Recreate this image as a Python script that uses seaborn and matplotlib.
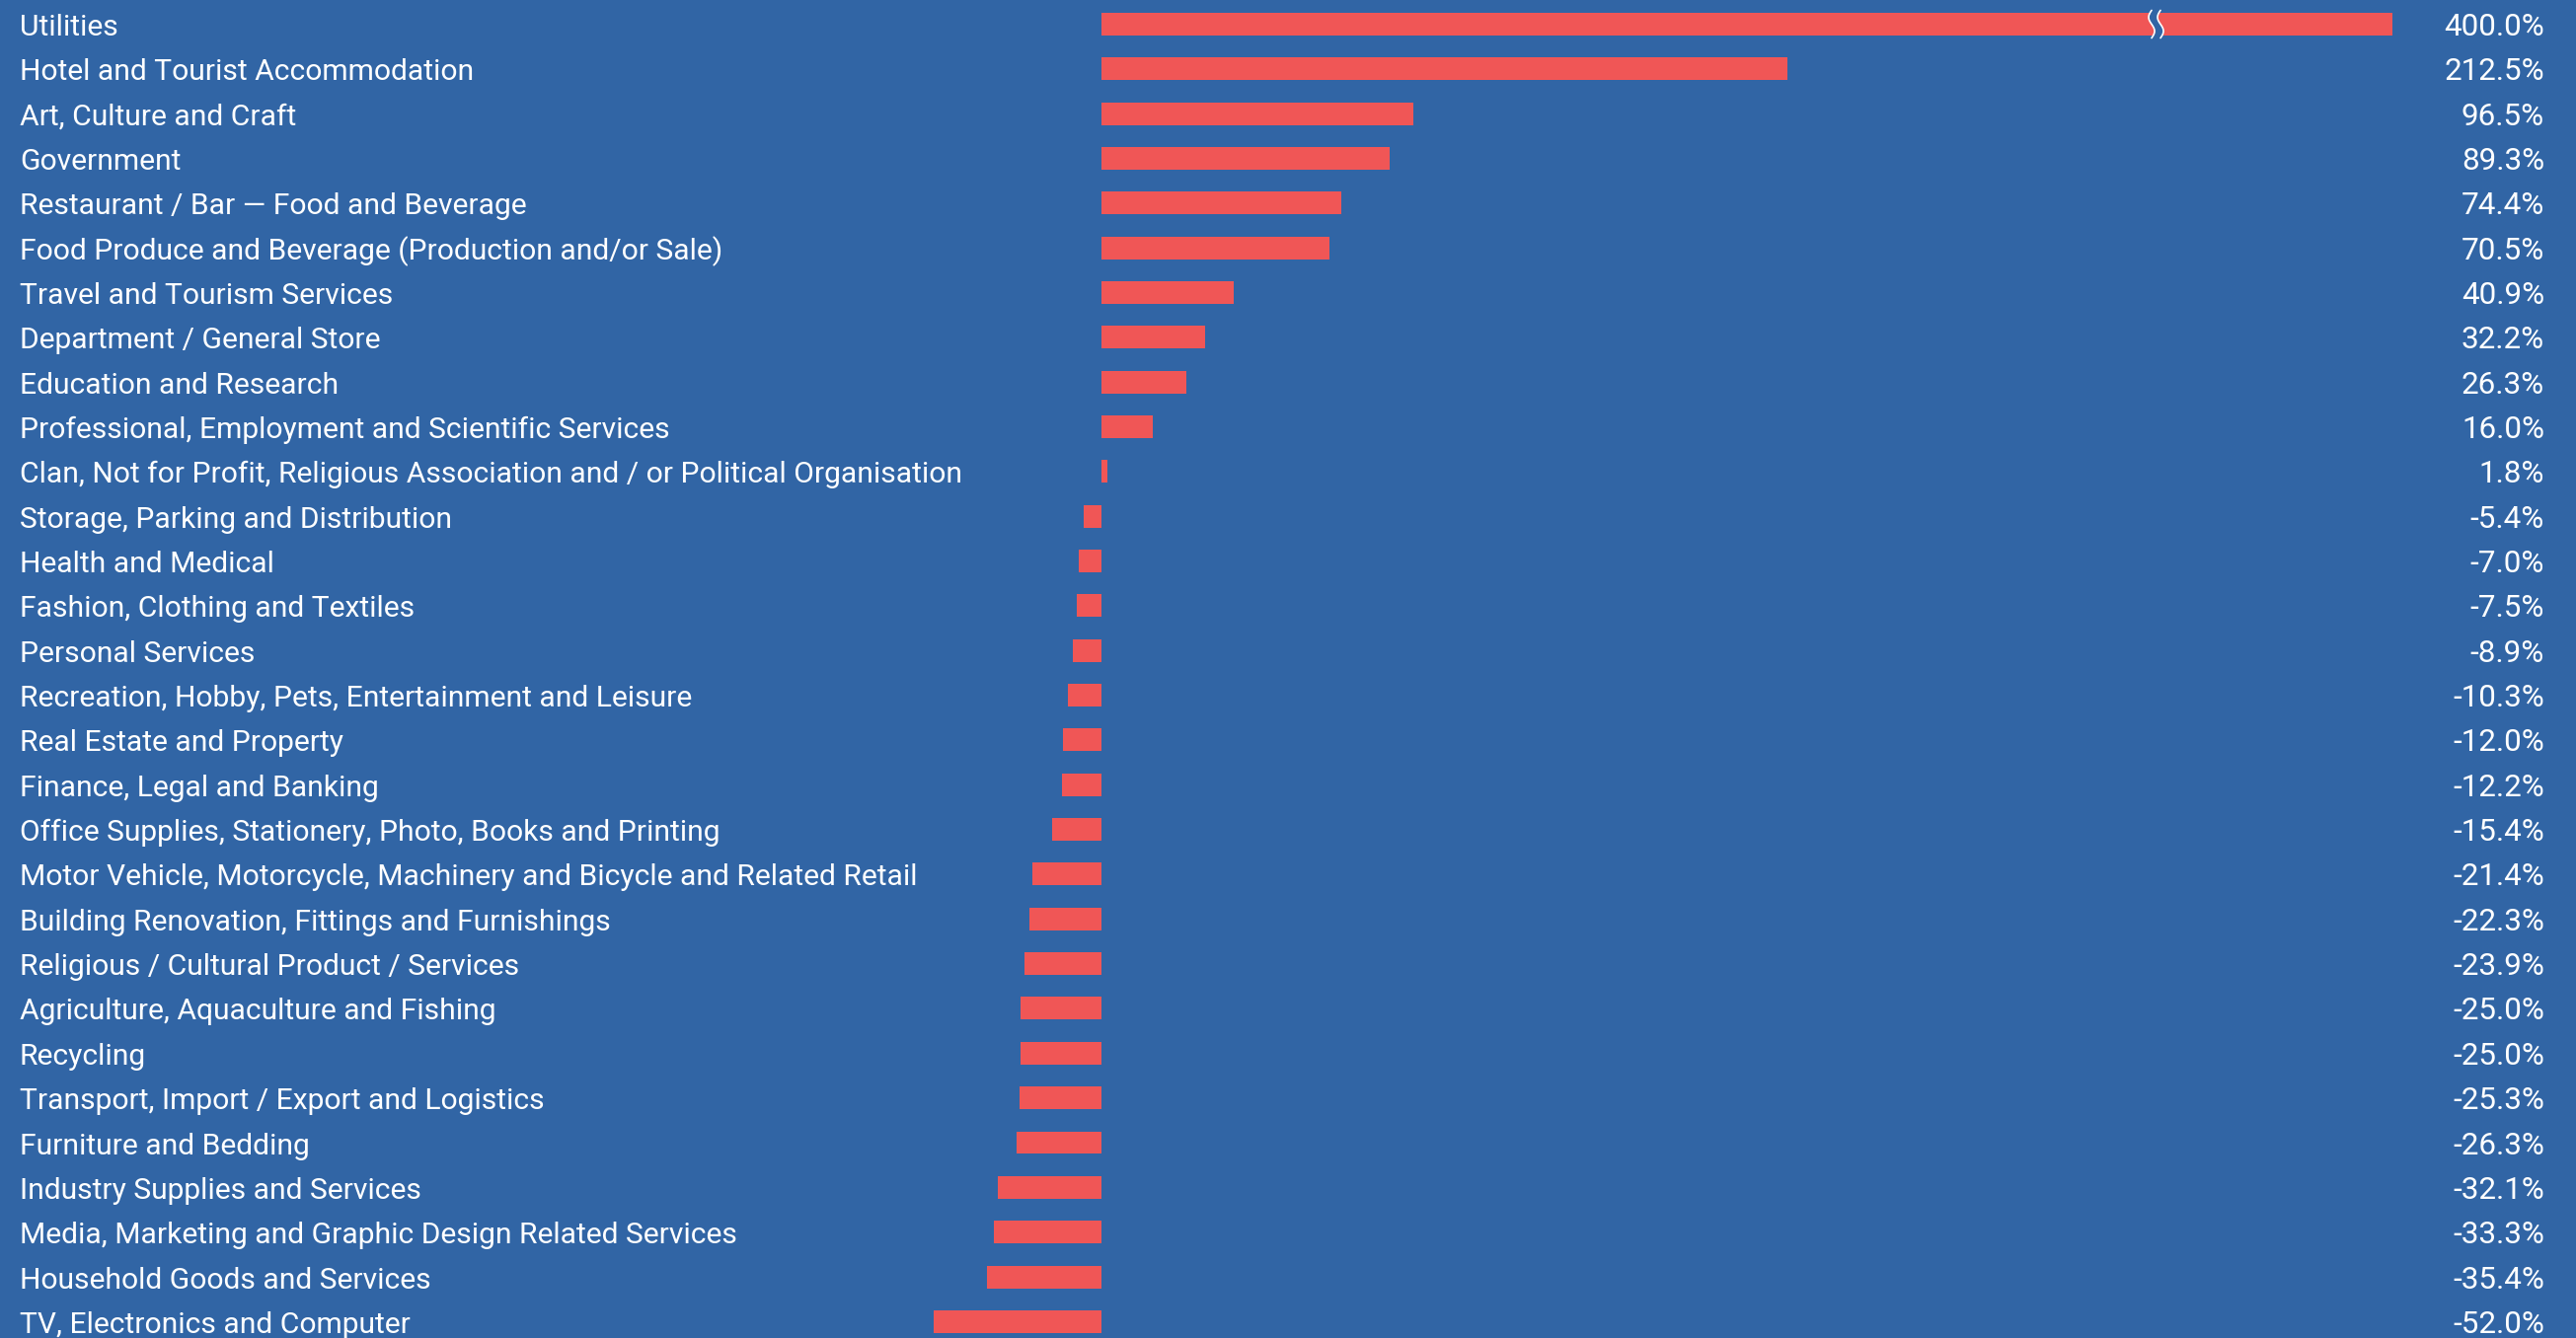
import numpy as np
import matplotlib
matplotlib.use("Agg")
import matplotlib.pyplot as plt
import matplotlib.transforms as mtransforms
import seaborn as sns

# Percentage change by business category
categories = [
    "Utilities",
    "Hotel and Tourist Accommodation",
    "Art, Culture and Craft",
    "Government",
    "Restaurant / Bar \u2014 Food and Beverage",
    "Food Produce and Beverage (Production and/or Sale)",
    "Travel and Tourism Services",
    "Department / General Store",
    "Education and Research",
    "Professional, Employment and Scientific Services",
    "Clan, Not for Profit, Religious Association and / or Political Organisation",
    "Storage, Parking and Distribution",
    "Health and Medical",
    "Fashion, Clothing and Textiles",
    "Personal Services",
    "Recreation, Hobby, Pets, Entertainment and Leisure",
    "Real Estate and Property",
    "Finance, Legal and Banking",
    "Office Supplies, Stationery, Photo, Books and Printing",
    "Motor Vehicle, Motorcycle, Machinery and Bicycle and Related Retail",
    "Building Renovation, Fittings and Furnishings",
    "Religious / Cultural Product / Services",
    "Agriculture, Aquaculture and Fishing",
    "Recycling",
    "Transport, Import / Export and Logistics",
    "Furniture and Bedding",
    "Industry Supplies and Services",
    "Media, Marketing and Graphic Design Related Services",
    "Household Goods and Services",
    "TV, Electronics and Computer",
]
change_pct = [
    400.0, 212.5, 96.5, 89.3, 74.4, 70.5, 40.9, 32.2, 26.3, 16.0,
    1.8, -5.4, -7.0, -7.5, -8.9, -10.3, -12.0, -12.2, -15.4, -21.4,
    -22.3, -23.9, -25.0, -25.0, -25.3, -26.3, -32.1, -33.3, -35.4, -52.0,
]

BG = "#3165a5"
BAR = "#f05656"
TXT = "#ffffff"

sns.set_theme(style="white")
plt.rcParams["font.family"] = ["Roboto", "DejaVu Sans"]

W, H = 2610, 1356
fig = plt.figure(figsize=(W / 100, H / 100), dpi=100, facecolor=BG)
ax = fig.add_axes([0, 0, 1, 1])

sns.barplot(x=change_pct, y=categories, orient="h", color=BAR,
            saturation=1, width=0.507, linewidth=0, edgecolor=BAR, ax=ax)

# horizontal scale: zero at 1116 px, 3.27 px per percentage point
px_per = 3.27
zero_px = 1116
ax.set_xlim(-zero_px / px_per, (W - zero_px) / px_per)
row_px = 45.34
first_px = 24.5
n = len(categories)
ax.set_ylim((n - 1) + (H - first_px - (n - 1) * row_px) / row_px,
            -first_px / row_px)
ax.axis("off")

lab_tf = mtransforms.blended_transform_factory(fig.transFigure, ax.transData)
base_off = 11.5 / row_px
for i, (cat, v) in enumerate(zip(categories, change_pct)):
    ax.text(20 / W, i + base_off, cat, transform=lab_tf, ha="left",
            va="baseline", color=TXT, fontsize=21.6)
    ax.text(2578 / W, i + base_off, f"{v:.1f}%", transform=lab_tf,
            ha="right", va="baseline", color=TXT, fontsize=22.6)

# axis-break marker on the longest bar
brk_tf = mtransforms.blended_transform_factory(fig.transFigure, ax.transData)
t = np.linspace(-0.31, 0.31, 60)
wave = 3.0 * np.sin(t / 0.31 * np.pi)
x_left = (2180 + wave) / W
x_right = (2189 + wave) / W
ax.fill_betweenx(t, x_left, x_right, transform=brk_tf, color=BG,
                 linewidth=0, zorder=5)
ax.plot(x_left, t, transform=brk_tf, color=TXT, lw=1.2, zorder=6)
ax.plot(x_right, t, transform=brk_tf, color=TXT, lw=1.2, zorder=6)

fig.savefig("out.png", dpi=100, facecolor=BG)
